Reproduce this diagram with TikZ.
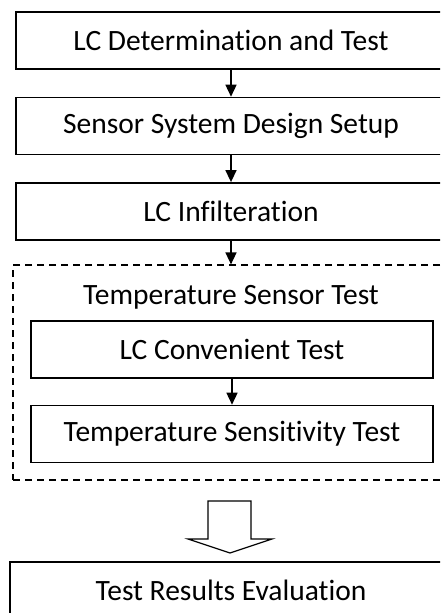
\documentclass[tikz,border=0pt]{standalone}
\usepackage{fontspec}
\setmainfont{Carlito}[Ligatures={NoCommon,NoRequired,NoContextual}]
\usetikzlibrary{arrows.meta}
\usetikzlibrary{positioning}

\begin{document}
\begin{tikzpicture}[x=1pt,y=-1pt,node distance=27pt,
    stepbox/.style={draw,line width=1.4pt,minimum width=430pt,minimum height=57pt,inner sep=0pt,font=\fontsize{29.5}{34}\selectfont},
    innerbox/.style={stepbox,minimum width=402pt},
    groupbox/.style={draw,dashed,line width=1.2pt,dash pattern=on 7pt off 5pt,minimum width=436pt,minimum height=215pt},
    flow/.style={line width=1.5pt,-{Triangle[width=11pt,length=12pt]}}]
    \useasboundingbox (0,0) rectangle (440,613);
    \clip (0,0) rectangle (440,613);
    \node [stepbox] (det) at (231,40.5) {LC Determination and Test};
    \node [stepbox] (setup) [below=of det] {Sensor System Design Setup};
    \node [stepbox] (infil) [below=of setup] {LC Infilteration};
    \node [groupbox] (group) at (231,372.5) {};
    \node [font=\fontsize{29.5}{34}\selectfont] (title) at (231,297) {Temperature Sensor Test};
    \node [innerbox] (conv) at (232,349.5) {LC Convenient Test};
    \node [innerbox] (sens) [below=26pt of conv] {Temperature Sensitivity Test};
    \node [stepbox,minimum width=442pt] (eval) at (231,590.5) {Test Results Evaluation};
    % hollow arrow towards the evaluation
    \draw [line width=1.2pt,line join=miter]
        (208,501) -- (251,501) -- (251,539) -- (272,539) -- (230,553)
        -- (188,539) -- (208,539) -- cycle;
    \path[flow]
        (det) edge (setup)
        (setup) edge (infil)
        (infil) edge (group)
        (conv) edge (sens);
\end{tikzpicture}
\end{document}
